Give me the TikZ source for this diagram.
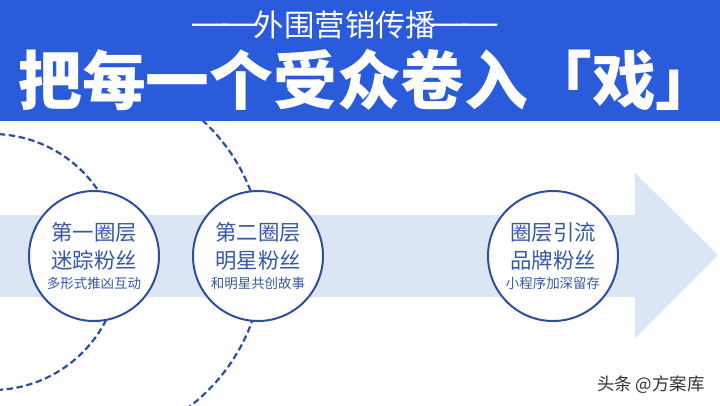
\documentclass[tikz,border=0pt]{standalone}
\usepackage{fontspec}
\setmainfont{Noto Sans CJK SC}
\usepackage{graphicx}
\usepackage{tikz}
\usepackage{color}

\begin{document}
\begin{tikzpicture}[x=1bp,y=-1bp]
\definecolor{mycolor1}{HTML}{2A5BDA}
\definecolor{mycolor2}{HTML}{DBE5F3}
\definecolor{mycolor3}{HTML}{2D4E9F}
\definecolor{mycolor4}{HTML}{3658AA}
\tikzset{
  ring/.style={draw=mycolor3, line width=2bp, fill=white, circle, minimum size=130bp,
    inner sep=0pt, align=center, text=mycolor4},
  orbit/.style={draw=mycolor3, line width=2.2bp, dash pattern=on 6.5bp off 3.5bp}
}
\newcommand{\bigline}{\fontsize{21.5}{25}\selectfont}
\newcommand{\smallline}{\fontsize{13.5}{16}\selectfont}
\newcommand{\longdash}{\raisebox{1bp}{\scalebox{1.45}[1.2]{—}}}
\useasboundingbox (0,0) rectangle (720,405);
\clip (0,0) rectangle (720,405);

\fill[white] (0,0) rectangle (720,405);
\fill[mycolor2] (0,215) -- (635,215) -- (635,173) -- (718,255) -- (635,338)
  -- (635,297) -- (0,297) -- cycle;

\draw[orbit] (-8,262) circle (128);
\draw[orbit] (76,258) circle (187);

\fill[mycolor1] (0,0) rectangle (720,121);
\node[text=white, font=\fontsize{30.5}{32}\selectfont] (sub) at (345,25) {\longdash\kern-9bp\longdash\kern-6bp外围营销传播\kern-6bp\longdash\kern-9bp\longdash};
\node[text=white, font=\fontsize{64}{68}\selectfont\bfseries] (title) at (369,80) {把每一个受众卷入「戏」};

\node[ring] (c1) at (94,256) {\bigline 第一圈层\\[7bp]\bigline 迷踪粉丝\\[6bp]\smallline 多形式推凶互动};
\node[ring] (c2) at (258,256) {\bigline 第二圈层\\[7bp]\bigline 明星粉丝\\[6bp]\smallline 和明星共创故事};
\node[ring] (c3) at (553,256) {\bigline 圈层引流\\[7bp]\bigline 品牌粉丝\\[6bp]\smallline 小程序加深留存};

\node[text=black!80, font=\fontsize{17.5}{19}\selectfont] (mark) at (651,385) {头条 @方案库};

\end{tikzpicture}
\end{document}
